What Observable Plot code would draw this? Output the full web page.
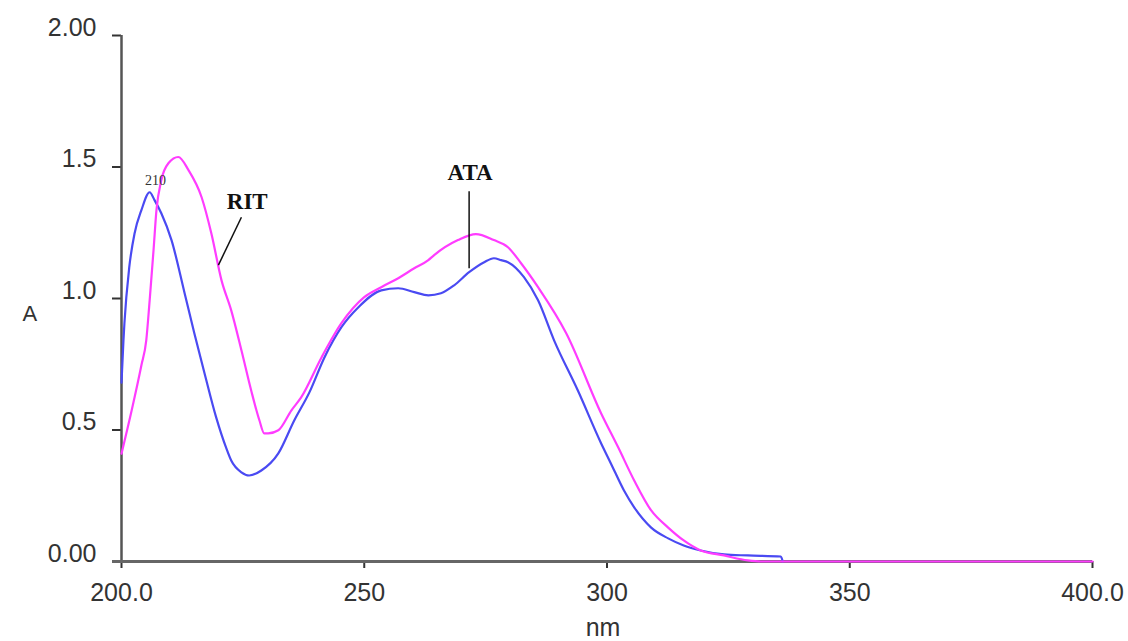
<!DOCTYPE html>
<html>
<head>
<meta charset="utf-8">
<script src="https://cdn.jsdelivr.net/npm/d3@7"></script>
<script src="https://cdn.jsdelivr.net/npm/@observablehq/plot@0.6"></script>
<style>
  html, body { margin: 0; padding: 0; background: #fff; }
  #chart svg { display: block; }
</style>
</head>
<body>
<div id="chart"></div>
<script>
// Blue spectrum (peak labelled 210)
const blueNm = [200.0, 200.4, 200.6, 201.6, 202.7, 204.1, 205.8, 206.8, 208.2, 210.3, 213.0, 215.0, 217.1, 219.5, 221.6, 222.6, 224.7, 226.3, 228.8, 232.3, 235.6, 238.7, 241.8, 245.3, 248.8, 253.5, 257.0, 260.3, 263.2, 265.8, 268.5, 271.6, 274.7, 276.7, 278.2, 279.6, 282.9, 285.8, 289.1, 294.0, 298.8, 300.8, 303.5, 305.6, 309.1, 312.6, 315.8, 319.3, 324.1, 329.0, 335.8, 336.2];
const blueA  = [0.68, 0.84, 0.906, 1.119, 1.248, 1.336, 1.404, 1.374, 1.324, 1.222, 1.02, 0.868, 0.716, 0.548, 0.43, 0.384, 0.339, 0.327, 0.346, 0.411, 0.537, 0.643, 0.776, 0.891, 0.967, 1.031, 1.039, 1.024, 1.012, 1.02, 1.05, 1.1, 1.138, 1.153, 1.146, 1.138, 1.081, 0.993, 0.841, 0.65, 0.449, 0.373, 0.27, 0.206, 0.129, 0.088, 0.061, 0.042, 0.027, 0.023, 0.019, 0.0];

// Magenta spectrum
const pinkNm = [200.0, 202.1, 204.1, 205.1, 205.8, 206.6, 207.2, 208.2, 209.7, 211.7, 213.8, 216.5, 218.5, 220.6, 222.6, 224.7, 226.7, 228.4, 229.4, 230.2, 232.3, 235.0, 237.0, 241.2, 245.3, 250.0, 253.5, 257.0, 260.3, 263.2, 264.4, 269.3, 273.0, 276.7, 279.6, 282.3, 285.8, 291.6, 298.8, 302.3, 305.6, 309.1, 312.6, 315.8, 319.3, 324.1, 329.0, 331.7, 400.0];
const pinkA  = [0.41, 0.575, 0.746, 0.841, 0.993, 1.184, 1.336, 1.45, 1.515, 1.538, 1.488, 1.385, 1.248, 1.069, 0.955, 0.803, 0.651, 0.537, 0.487, 0.487, 0.499, 0.575, 0.624, 0.776, 0.906, 1.005, 1.043, 1.077, 1.115, 1.146, 1.165, 1.222, 1.245, 1.222, 1.195, 1.134, 1.043, 0.868, 0.563, 0.434, 0.308, 0.194, 0.129, 0.08, 0.042, 0.023, 0.004, 0.0, 0.0];

// Axis ticks
const xTicks = [200, 250, 300, 350, 400];
const xTickLabels = ["200.0", "250", "300", "350", "400.0"];
const yTicks = [0, 0.5, 1.0, 1.5, 2.0];
const yTickLabels = ["0.00", "0.5", "1.0", "1.5", "2.00"];

// Annotations
const annoText = ["210", "RIT", "ATA"];
const annoNm   = [207.0, 225.9, 271.8];
const annoA    = [1.45, 1.37, 1.48];
const leaderNm1 = [224.7, 271.6];
const leaderA1  = [1.309, 1.408];
const leaderNm2 = [219.96, 271.6];
const leaderA2  = [1.127, 1.115];

const blue = blueNm.map((x, i) => ({x, y: blueA[i]}));
const pink = pinkNm.map((x, i) => ({x, y: pinkA[i]}));
const annos = annoText.map((t, i) => ({t, x: annoNm[i], y: annoA[i]}));
const leaders = leaderNm1.map((x1, i) => ({x1, y1: leaderA1[i], x2: leaderNm2[i], y2: leaderA2[i]}));

const sans = "'Liberation Sans', Arial, sans-serif";
const serif = "'Liberation Serif', 'Times New Roman', serif";

const chart = Plot.plot({
  width: 1128,
  height: 641,
  marginLeft: 121,
  marginRight: 36,
  marginTop: 35,
  marginBottom: 80,
  style: {fontFamily: sans, background: "#fff", overflow: "visible"},
  x: {domain: [200, 400]},
  y: {domain: [0, 2]},
  marks: [
    Plot.axisX({
      ticks: xTicks,
      tickFormat: d => xTickLabels[xTicks.indexOf(d)],
      tickSize: 7,
      tickPadding: 15,
      fontSize: 25,
      stroke: "#333",
      strokeWidth: 2,
      fill: "#333",
      label: null,
      style: {letterSpacing: "1.5px"}
    }),
    // y tick marks only
    Plot.axisY({
      ticks: yTicks,
      tickFormat: () => "",
      tickSize: 9,
      stroke: "#333",
      strokeWidth: 2,
      label: null
    }),
    // y tick labels, sitting slightly above their ticks
    Plot.axisY({
      ticks: yTicks,
      tickFormat: d => yTickLabels[yTicks.indexOf(d)],
      tickSize: 0,
      tickPadding: 25,
      fontSize: 25,
      fill: "#333",
      dy: -8,
      label: null,
      style: {letterSpacing: "1.5px"}
    }),
    Plot.ruleX([200], {stroke: "#555", strokeWidth: 2.5}),
    Plot.ruleY([0], {stroke: "#666", strokeWidth: 3, insetLeft: -9}),
    Plot.line(blue, {x: "x", y: "y", stroke: "#4a4af2", strokeWidth: 2.2, curve: "monotone-x"}),
    Plot.line(pink, {x: "x", y: "y", stroke: "#ff3cff", strokeWidth: 2.2, curve: "monotone-x"}),
    Plot.link(leaders, {x1: "x1", y1: "y1", x2: "x2", y2: "y2", stroke: "#111", strokeWidth: 1.5}),
    Plot.text(annos.slice(0, 1), {x: "x", y: "y", text: "t", fontFamily: serif, fontSize: 14, fill: "#333"}),
    Plot.text(annos.slice(1), {x: "x", y: "y", text: "t", fontFamily: serif, fontSize: 23, fontWeight: "bold", fill: "#111"}),
    Plot.text(["A"], {frameAnchor: "left", dx: -99, dy: 15, fontSize: 22, fill: "#333", fontFamily: sans}),
    Plot.text(["nm"], {frameAnchor: "bottom", dx: -4, dy: 74, fontSize: 25, fill: "#333", fontFamily: sans})
  ]
});

document.getElementById("chart").appendChild(chart);
</script>
</body>
</html>
